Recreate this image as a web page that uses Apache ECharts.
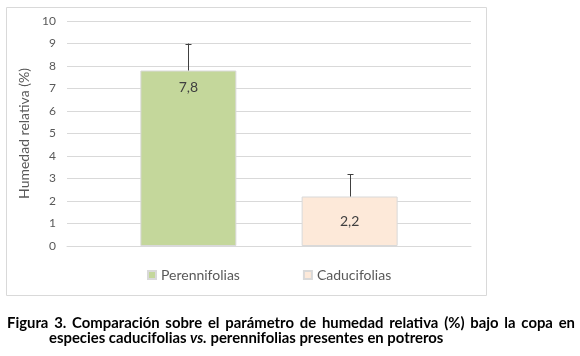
<!DOCTYPE html>
<html>
<head>
<meta charset="utf-8">
<script src="https://cdn.jsdelivr.net/npm/echarts@6/dist/echarts.min.js"></script>
<style>
html,body{margin:0;padding:0;background:#fff;}
#c{width:580px;height:356px;}
</style>
</head>
<body>
<div id="c"></div>
<script>
var categories = [''];
var seriesNames = ['Perennifolias', 'Caducifolias'];
var perennifolias = [7.8];
var caducifolias = [2.2];
var perennifoliasErr = [1.2];
var caducifoliasErr = [1.0];
var yTicks = [0, 1, 2, 3, 4, 5, 6, 7, 8, 9, 10];
var yAxisName = 'Humedad relativa (%)';
var captionLine1 = 'Figura 3. Comparación sobre el parámetro de humedad relativa (%) bajo la copa en';
var captionLine2a = 'especies caducifolias ';
var captionLine2b = 'vs.';
var captionLine2c = ' perennifolias presentes en potreros';

var FONT = 'Lato, "Open Sans", sans-serif';
var CAPFONT = 'Lato, "Open Sans", sans-serif';

// caption font size from line 1's natural width, then justify line 1 to the reference edges
var ctx = document.createElement('canvas').getContext('2d');
ctx.font = 'bold 100px ' + CAPFONT;
var w1 = ctx.measureText(captionLine1).width;
var capSize = Math.min(16, Math.max(11, 100 * 540 / w1));
ctx.font = 'bold ' + capSize + 'px ' + CAPFONT;
var words1 = captionLine1.split(' ');
var wordW = words1.map(function (w) { return ctx.measureText(w).width; });
var totalW = wordW.reduce(function (a, b) { return a + b; }, 0);
var line1Left = 7, line1Right = 575;
var gap = (line1Right - line1Left - totalW) / (words1.length - 1);
var line1Children = [];
var cx = line1Left;
words1.forEach(function (w, i) {
  line1Children.push({type: 'text', x: cx, y: 316, style: {text: w, font: 'bold ' + capSize + 'px ' + CAPFONT, fill: '#000'}});
  cx += wordW[i] + gap;
});

var chart = echarts.init(document.getElementById('c'), null, {renderer: 'canvas'});

function errorRender(barIndex, errs) {
  return function (params, api) {
    var v = api.value(1);
    var e = errs[params.dataIndex];
    var layout = null;
    try {
      layout = chart.getModel().getSeriesByIndex(barIndex).getData().getItemLayout(params.dataIndex);
    } catch (err) { layout = null; }
    var base = api.coord([api.value(0), v]);
    var top = api.coord([api.value(0), v + e]);
    var x = layout ? layout.x + layout.width / 2 : base[0];
    x = Math.round(x) + 0.5;
    var y0 = layout ? Math.min(layout.y, layout.y + layout.height) : base[1];
    var style = {stroke: '#404040', lineWidth: 1};
    return {
      type: 'group',
      children: [
        {type: 'line', shape: {x1: x, y1: y0, x2: x, y2: top[1]}, style: style},
        {type: 'line', shape: {x1: x - 3, y1: Math.round(top[1]) + 0.5, x2: x + 3, y2: Math.round(top[1]) + 0.5}, style: style}
      ]
    };
  };
}

var option = {
  animation: false,
  textStyle: {fontFamily: FONT},
  grid: {left: 67, right: 109, top: 21, bottom: 110, containLabel: false},
  legend: {
    data: seriesNames,
    left: 142, top: 263,
    icon: 'rect', itemWidth: 8, itemHeight: 8, itemGap: 63,
    textStyle: {color: '#595959', fontSize: 14, fontFamily: FONT}
  },
  xAxis: {
    type: 'category', data: categories,
    axisLine: {show: true, lineStyle: {color: '#d9d9d9'}},
    axisTick: {show: false}, axisLabel: {show: false}
  },
  yAxis: {
    type: 'value', min: yTicks[0], max: yTicks[yTicks.length - 1], interval: 1,
    name: yAxisName, nameLocation: 'middle', nameGap: 29,
    nameTextStyle: {color: '#595959', fontSize: 14, fontFamily: FONT},
    axisLine: {show: false}, axisTick: {show: false},
    axisLabel: {color: '#595959', fontSize: 12, margin: 11, fontFamily: FONT},
    splitLine: {lineStyle: {color: '#d9d9d9'}}
  },
  series: [
    {
      name: seriesNames[0], type: 'bar', data: perennifolias,
      barWidth: 96, barGap: '68%',
      itemStyle: {color: '#c4d79b', borderColor: '#d9d9d9', borderWidth: 1},
      label: {show: true, position: 'insideTop', distance: 10, color: '#404040', fontSize: 14, fontFamily: FONT,
        formatter: function (p) { return String(p.value).replace('.', ','); }}
    },
    {
      name: seriesNames[1], type: 'bar', data: caducifolias,
      barWidth: 96, barGap: '68%',
      itemStyle: {color: '#fde9d9', borderColor: '#d9d9d9', borderWidth: 1},
      label: {show: true, position: 'insideTop', distance: 18, color: '#404040', fontSize: 14, fontFamily: FONT,
        formatter: function (p) { return String(p.value).replace('.', ','); }}
    },
    {
      type: 'custom', name: 'errP', z: 5,
      data: perennifolias.map(function (v, i) { return [i, v]; }),
      renderItem: errorRender(0, perennifoliasErr), silent: true
    },
    {
      type: 'custom', name: 'errC', z: 5,
      data: caducifolias.map(function (v, i) { return [i, v]; }),
      renderItem: errorRender(1, caducifoliasErr), silent: true
    }
  ],
  graphic: [
    {type: 'rect', shape: {x: 6.5, y: 7.5, width: 480, height: 288}, style: {fill: null, stroke: '#d9d9d9', lineWidth: 1}, z: -1, silent: true},
    {type: 'group', children: line1Children},
    {type: 'text', left: 49, top: 331, style: {
      text: '{n|' + captionLine2a + '}{i|' + captionLine2b + '}{n|' + captionLine2c + '}',
      rich: {
        n: {fontWeight: 'bold', fontSize: capSize, fontFamily: CAPFONT, fill: '#000', color: '#000'},
        i: {fontWeight: 'bold', fontStyle: 'italic', fontSize: capSize, fontFamily: CAPFONT, fill: '#000', color: '#000'}
      }
    }}
  ]
};
chart.setOption(option);
</script>
</body>
</html>
